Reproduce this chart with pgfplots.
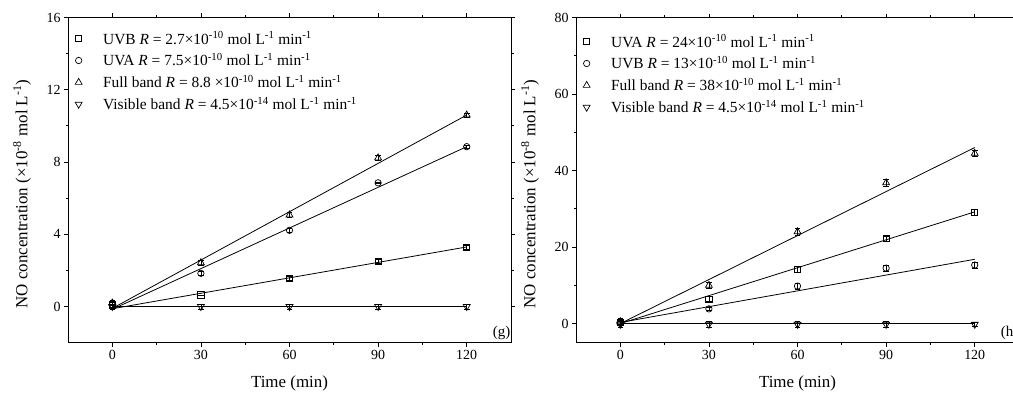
\documentclass[border=0pt]{standalone}
\usepackage{pgfplots}
\pgfplotsset{compat=1.18}
\usepackage{fontspec}
\setmainfont{Liberation Serif}

\pgfplotsset{
  myaxis/.style={
    scale only axis, width=443bp, height=325.2bp,
    xmin=-15, xmax=135, xtick={0,30,60,90,120}, minor x tick num=1,
    tick align=outside, major tick length=4bp, minor tick length=2.5bp,
    axis line style={line width=0.9bp},
    every tick/.style={black, line width=0.8bp},
    ticklabel style={font=\fontsize{14}{16}\selectfont},
    /pgf/number format/assume math mode=true,
    label style={font=\fontsize{17}{20}\selectfont},
    xlabel={Time (min)},
    ylabel={NO concentration (×10\textsuperscript{-8} mol L\textsuperscript{-1})},
    xlabel style={at={(axis description cs:0.5,0)}, anchor=base, yshift=-44.5bp},
    ylabel style={at={(axis description cs:0,0.457)}, anchor=center, yshift=46bp},
    legend style={draw=none, fill=none, font=\fontsize{15.5}{18}\selectfont,
      at={(axis description cs:0,1)}, anchor=north west, xshift=7bp,
      inner xsep=0pt, inner ysep=0pt, row sep=4bp,
      /tikz/every odd column/.append style={column sep=19bp}},
    legend image code/.code={\draw[#1] plot coordinates {(0bp,0bp)};},
    legend cell align=left,
    error bars/y dir=both, error bars/y explicit,
    error bars/error mark options={rotate=90, mark size=2.8bp, line width=0.6bp},
    error bars/error bar style={line width=0.6bp},
    every axis plot/.append style={black},
  },
  fitline/.style={no marks, black, line width=0.8bp, forget plot},
  msq/.style={only marks, mark=square, mark size=3.1bp, mark options={line width=0.7bp}},
  mci/.style={only marks, mark=o, mark size=3.2bp, mark options={line width=0.7bp}},
  mtu/.style={only marks, mark=triangle, mark size=4bp, mark options={line width=0.7bp}},
  mtd/.style={only marks, mark=triangle, mark size=4bp, mark options={line width=0.7bp, rotate=180}},
}

\begin{document}
\begin{tikzpicture}[x=1bp,y=1bp]
\path[use as bounding box] (0,0) rectangle (1013,392);
\clip (0,0) rectangle (1013,392);

% ---------------- panel (g) ----------------
\begin{axis}[myaxis, at={(68bp,49.3bp)}, anchor=south west,
  ymin=-2, ymax=16, ytick={0,4,8,12,16}, minor y tick num=1,
  legend style={yshift=-12bp}]
\addplot[fitline] coordinates {(0,-0.12) (120,3.3)};
\addplot[fitline] coordinates {(0,-0.15) (120,8.85)};
\addplot[fitline] coordinates {(0,-0.1) (120,10.6)};
\addplot[fitline] coordinates {(0,0) (120,0)};
\addplot[msq] coordinates {(0,0.1) +- (0,0.12) (30,0.65) +- (0,0) (60,1.57) +- (0,0.12) (90,2.51) +- (0,0.12) (120,3.27) +- (0,0.1)};
\addlegendentry{UVB \textit{R} = 2.7×10\textsuperscript{-10} mol L\textsuperscript{-1} min\textsuperscript{-1}}
\addplot[mci] coordinates {(0,0.1) +- (0,0.12) (30,1.84) +- (0,0.1) (60,4.22) +- (0,0.1) (90,6.85) +- (0,0.05) (120,8.85) +- (0,0.1)};
\addlegendentry{UVA \textit{R} = 7.5×10\textsuperscript{-10} mol L\textsuperscript{-1} min\textsuperscript{-1}}
\addplot[mtu] coordinates {(0,0.2) +- (0,0.15) (30,2.43) +- (0,0.15) (60,5.07) +- (0,0.15) (90,8.23) +- (0,0.12) (120,10.6) +- (0,0.12)};
\addlegendentry{Full band \textit{R} = 8.8 ×10\textsuperscript{-10} mol L\textsuperscript{-1} min\textsuperscript{-1}}
\addplot[mtd] coordinates {(0,0) +- (0,0.15) (30,0) +- (0,0.15) (60,0) +- (0,0.15) (90,0) +- (0,0.15) (120,0) +- (0,0.15)};
\addlegendentry{Visible band \textit{R} = 4.5×10\textsuperscript{-14} mol L\textsuperscript{-1} min\textsuperscript{-1}}
\node[anchor=base east, font=\fontsize{15}{17}\selectfont, inner sep=0pt] at (rel axis cs:1,0) [yshift=6.5bp, xshift=-0.5bp] {(g)};
\end{axis}

% ---------------- panel (h) ----------------
\begin{axis}[myaxis, at={(576bp,49.3bp)}, anchor=south west,
  ymin=-5, ymax=80, ytick={0,20,40,60,80}, minor y tick num=1,
  legend style={yshift=-15bp}]
\addplot[fitline] coordinates {(0,0) (120,29.2)};
\addplot[fitline] coordinates {(0,0.3) (120,16.8)};
\addplot[fitline] coordinates {(0,0) (120,46)};
\addplot[fitline] coordinates {(0,0) (120,0)};
\addplot[msq] coordinates {(0,0.3) +- (0,0.7) (30,6.4) +- (0,0.7) (60,14.2) +- (0,0.7) (90,22.2) +- (0,0.7) (120,29.1) +- (0,0.7)};
\addlegendentry{UVA \textit{R} = 24×10\textsuperscript{-10} mol L\textsuperscript{-1} min\textsuperscript{-1}}
\addplot[mci] coordinates {(0,0.2) +- (0,0.7) (30,3.84) +- (0,0.4) (60,9.8) +- (0,0.8) (90,14.5) +- (0,0.8) (120,15.3) +- (0,0.8)};
\addlegendentry{UVB \textit{R} = 13×10\textsuperscript{-10} mol L\textsuperscript{-1} min\textsuperscript{-1}}
\addplot[mtu] coordinates {(0,0.5) +- (0,0.8) (30,10.0) +- (0,0.8) (60,24.0) +- (0,0.8) (90,36.8) +- (0,0.8) (120,44.5) +- (0,0.8)};
\addlegendentry{Full band \textit{R} = 38×10\textsuperscript{-10} mol L\textsuperscript{-1} min\textsuperscript{-1}}
\addplot[mtd] coordinates {(0,-0.2) +- (0,0.8) (30,-0.2) +- (0,0.8) (60,-0.2) +- (0,0.8) (90,-0.2) +- (0,0.8) (120,-0.2) +- (0,0.6)};
\addlegendentry{Visible band \textit{R} = 4.5×10\textsuperscript{-14} mol L\textsuperscript{-1} min\textsuperscript{-1}}
\node[anchor=base east, font=\fontsize{15}{17}\selectfont, inner sep=0pt] at (rel axis cs:1,0) [yshift=6.5bp, xshift=-0.5bp] {(h)};
\end{axis}
\end{tikzpicture}
\end{document}
